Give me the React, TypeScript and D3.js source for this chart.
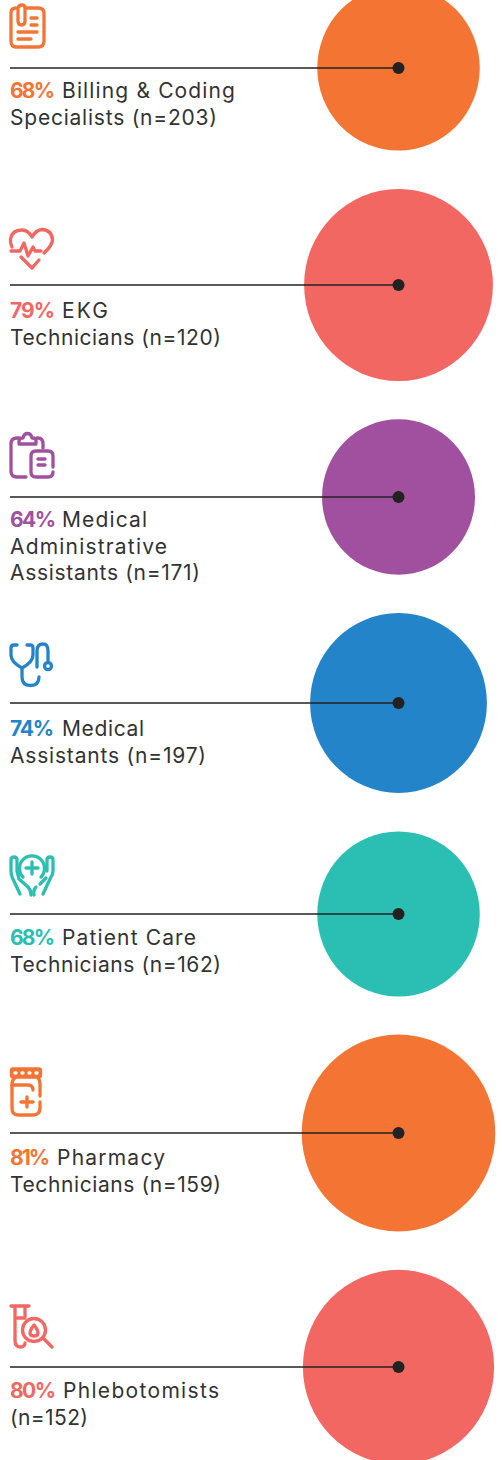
import React from "react";
import * as d3 from "d3";

const categories = ["Billing & Coding Specialists", "EKG Technicians", "Medical Administrative Assistants", "Medical Assistants", "Patient Care Technicians", "Pharmacy Technicians", "Phlebotomists"];
const percents = [68, 79, 64, 74, 68, 81, 80];
const sampleSizes = [203, 120, 171, 197, 162, 159, 152];
const colorNames = ["orange", "coral", "purple", "blue", "teal", "orange", "coral"];
const labelLines = [
  ["Billing & Coding", "Specialists (n=203)"],
  ["EKG", "Technicians (n=120)"],
  ["Medical", "Administrative", "Assistants (n=171)"],
  ["Medical", "Assistants (n=197)"],
  ["Patient Care", "Technicians (n=162)"],
  ["Pharmacy", "Technicians (n=159)"],
  ["Phlebotomists", "(n=152)"],
];

const palette: Record<string, string> = { orange: "#F47533", coral: "#F36763", purple: "#A0509E", blue: "#2484C9", teal: "#2ABFB2" };
const rowCentres = [68, 285, 497, 703, 914, 1133, 1367];
const textBaselines = [98, 318, 527, 736, 945, 1165, 1398];
// layout: where the percent ends, where the first-line label starts, and where each line ends
const percentEnds = [55, 55, 56, 54, 55, 50, 56];
const labelStarts = [62, 62, 62, 62, 62, 57, 63];
const lineEnds = [[235, 217], [108, 221], [147, 167, 200], [144, 206], [196, 221], [165, 221], [219, 88]];

const FONT = "Inter, 'Noto Sans', sans-serif";
const radiusX = d3.scaleLinear().domain([0, 100]).range([0, 119.5]);
const radiusY = d3.scaleLinear().domain([0, 100]).range([0, 121.5]);
const rowY = d3.scaleOrdinal<string, number>().domain(categories).range(rowCentres);
const CENTRE_X = 398.5;
const LINE_X0 = 10;
const LINE_H = 26.5;

const icons: React.ReactNode[] = [
  <g key="a">
    <path d="M27 8H38Q44 8 44 13V41Q44 47 38 47H16Q11 47 11 41V13Q11 8 16 8" />
    <path d="M18 9V21Q18 25 21.500 25Q25 25 25 21V8Q25 5 22 5Q19 5 18 8" />
    <path d="M31 18H37M31 25H37M18 32H37M18 39H31" />
  </g>,
  <g key="b">
    <path d="M12 247Q10 243 10.500 239Q12 230 22 230Q28 230 32 237Q36 230 42 229.500Q52 230 52.500 240Q52 246 44 253" />
    <path d="M11 251H20L24 243L28 256L33 247L35 251H41" />
    <path d="M21 257L32 268L39 260" />
  </g>,
  <g key="c">
    <path d="M26 477H17Q11 477 11 471V444Q11 438 17 438H19M37 438H38Q43 438 43 444V448" />
    <path d="M19 444H36V441Q36 438 33 438H32Q31 433.500 27.500 433.500Q24 433.500 23 438H22Q19 438 19 441Z" />
    <path d="M53 467V456Q53 451 48 451H36Q31 451 31 456V472Q31 477 36 477H48Q53 477 53 472" />
    <path d="M38 459H45M38 465H45" />
  </g>,
  <g key="d">
    <path d="M17 645H14Q11 645 11 648V655Q11 662 22 668Q33 662 33 655V648Q33 645 30 645H27" />
    <path d="M22 668V677Q22 685.500 30.500 685.500Q39 685.500 39 677" />
    <path d="M37 667V651Q37 644 43 644Q48 644 48 651V662" />
    <circle cx="48" cy="666" r="3.500" />
  </g>,
  <g key="e">
    <path d="M23 877A12.500 12.500 0 1 1 41 877" />
    <path d="M32 862V874M26 868H38" />
    <path d="M20 894L12.500 878Q11 875 11 871V860Q11 857 14 857Q17 857 17 860V871L19 879L28 887Q31 890 31 895" />
    <path d="M43 894L50.500 878Q53 875 53 871V860Q53 857 50 857Q47 857 47 860V871M40 884L46 878M34 895Q33 890 36 887" />
  </g>,
  <g key="f">
    <rect x="11.500" y="1069" width="29" height="8" rx="1.500" fill="currentColor" />
    <path d="M15 1078Q12 1080 12 1084V1108Q12 1115 18 1115H33Q40 1115 40 1108V1102M38 1078Q40 1080 40 1084V1096" />
    <path d="M12 1085H28Q33 1085 33 1090" />
    <path d="M27 1097V1107M21 1102H33" />
    <path d="M15 1073H16M22 1073H23M29 1073H30M36 1073H37" stroke="#fff" />
  </g>,
  <g key="g">
    <path d="M11 1306H29M15 1306V1340Q15 1347 20 1347Q25 1347 25 1343M25 1306V1318M15 1318H25" />
    <circle cx="34" cy="1330" r="11.500" />
    <path d="M34 1325Q30 1330 30 1333Q30 1336 34 1336Q38 1336 38 1333Q38 1330 34 1325Z" />
    <path d="M43 1338L52 1347" />
  </g>,
];

export default function App() {
  return (
    <svg width={502} height={1460} viewBox="0 0 502 1460" style={{ position: "absolute", left: 0, top: 0, background: "#fff" }} fontFamily={FONT}>
      {categories.map((c, i) => {
        const color = palette[colorNames[i]];
        const cy = rowY(c);
        return (
          <g key={c}>
            <ellipse cx={CENTRE_X} cy={cy} rx={radiusX(percents[i])} ry={radiusY(percents[i])} fill={color} />
            <line x1={LINE_X0} x2={CENTRE_X} y1={cy} y2={cy} stroke="#222" strokeWidth={1.3} />
            <circle cx={CENTRE_X} cy={cy} r={6} fill="#222" />
            <g fill="none" stroke={color} color={color} strokeWidth={3.3} strokeLinecap="round" strokeLinejoin="round">
              {icons[i]}
            </g>
            <g fontSize={21}>
              <text x={LINE_X0} y={textBaselines[i]} fontWeight={700} fill={color} textLength={percentEnds[i] - LINE_X0}>
                {percents[i]}%
              </text>
              {labelLines[i].map((line, j) => {
                const x = j === 0 ? labelStarts[i] : LINE_X0;
                return (
                  <text key={j} x={x} y={textBaselines[i] + j * LINE_H} fill="#333" textLength={lineEnds[i][j] - x}>
                    {line}
                  </text>
                );
              })}
            </g>
          </g>
        );
      })}
    </svg>
  );
}
